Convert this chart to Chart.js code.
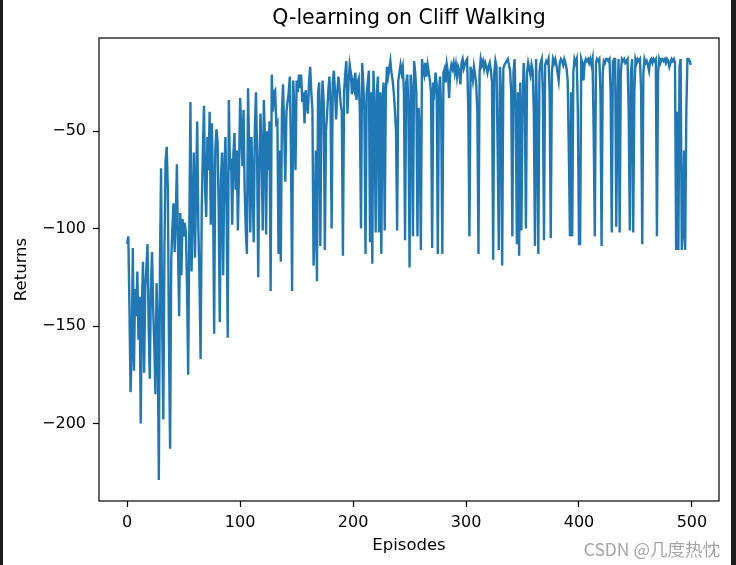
<!DOCTYPE html>
<html>
<head>
<meta charset="utf-8">
<script src="https://cdn.jsdelivr.net/npm/chart.js@4/dist/chart.umd.min.js"></script>
<style>
  body { margin: 0; background: #fff; }
  #wrap { position: relative; width: 736px; height: 565px; overflow: hidden; }
  #chart { position: absolute; left: 0; top: 0; }
  .edge { position: absolute; top: 0; height: 565px; background: #1e1e1e; }
  #mark { position: absolute; right: 16px; top: 536px; line-height: 22px; font: 17.5px "Noto Sans CJK SC", "DejaVu Sans", sans-serif; color: #a4a4a4; white-space: nowrap; }
</style>
</head>
<body>
<div id="wrap">
  <canvas id="chart" width="736" height="565"></canvas>
  <div class="edge" style="left:0;width:3px"></div>
  <div class="edge" style="left:731px;width:5px"></div>
  <div id="mark">CSDN @几度热忱</div>
</div>
<script>
const chartTitle = 'Q-learning on Cliff Walking';
const xLabel = 'Episodes';
const yLabel = 'Returns';
const xTicks = [0, 100, 200, 300, 400, 500];
const yTicks = [-200, -150, -100, -50];

// returns per episode
const returns = [
  -108, -104, -140, -184, -160, -110, -173, -131, -145, -122,
  -157, -135, -200, -140, -117, -174, -130, -120, -108, -150,
  -177, -130, -112, -141, -160, -185, -128, -150, -229, -120,
  -69, -152, -198, -110, -65, -58, -80, -160, -213, -116,
  -100, -87, -112, -95, -67, -110, -145, -92, -124, -95,
  -104, -97, -102, -130, -175, -100, -35, -122, -90, -61,
  -115, -80, -45, -100, -125, -167, -90, -60, -37, -80,
  -94, -53, -70, -40, -98, -46, -80, -154, -60, -49,
  -55, -90, -148, -75, -61, -124, -70, -53, -90, -156,
  -34, -70, -64, -98, -62, -51, -80, -60, -101, -70,
  -33, -50, -68, -39, -80, -101, -113, -28, -60, -102,
  -53, -75, -107, -50, -30, -60, -125, -70, -41, -60,
  -101, -34, -55, -103, -50, -70, -45, -132, -21, -40,
  -30, -29, -46, -45, -113, -60, -117, -40, -26, -50,
  -76, -40, -35, -30, -22, -60, -132, -24, -40, -70,
  -24, -30, -21, -28, -21, -35, -30, -46, -29, -35,
  -41, -25, -17, -30, -39, -119, -101, -60, -127, -30,
  -25, -109, -40, -24, -35, -111, -50, -41, -30, -22,
  -35, -100, -25, -19, -30, -44, -30, -22, -28, -36,
  -40, -114, -30, -21, -14, -41, -25, -16, -20, -31,
  -25, -28, -20, -34, -25, -23, -40, -100, -15, -25,
  -40, -113, -31, -25, -19, -107, -30, -118, -19, -40,
  -102, -30, -22, -102, -30, -113, -34, -25, -101, -30,
  -17, -22, -18, -14, -20, -24, -30, -39, -50, -101,
  -24, -20, -16, -20, -17, -30, -106, -25, -21, -40,
  -120, -21, -30, -104, -14, -20, -30, -104, -38, -50,
  -111, -13, -18, -21, -15, -22, -16, -20, -24, -30,
  -110, -25, -29, -20, -26, -113, -30, -22, -40, -113,
  -20, -18, -25, -16, -20, -33, -20, -16, -18, -15,
  -20, -16, -22, -17, -19, -26, -15, -13, -18, -16,
  -14, -13, -40, -104, -17, -20, -24, -17, -21, -26,
  -40, -113, -20, -13, -16, -14, -18, -15, -17, -20,
  -17, -15, -19, -25, -116, -20, -14, -17, -60, -111,
  -17, -30, -119, -18, -16, -15, -14, -13, -16, -19,
  -30, -104, -20, -13, -40, -108, -30, -114, -25, -101,
  -40, -15, -30, -100, -20, -15, -18, -21, -16, -19,
  -40, -109, -13, -50, -113, -20, -15, -13, -30, -106,
  -16, -14, -15, -13, -30, -105, -20, -13, -15, -13,
  -16, -20, -24, -15, -13, -14, -16, -13, -15, -18,
  -24, -60, -104, -30, -104, -20, -13, -15, -13, -40,
  -108, -108, -13, -15, -24, -15, -13, -14, -13, -15,
  -13, -16, -13, -50, -104, -15, -13, -14, -13, -30,
  -109, -20, -14, -15, -13, -13, -14, -13, -30, -102,
  -15, -13, -13, -99, -40, -13, -102, -20, -13, -14,
  -13, -15, -14, -13, -40, -101, -20, -13, -102, -30,
  -13, -15, -13, -14, -13, -30, -108, -20, -13, -15,
  -14, -16, -19, -14, -13, -15, -13, -14, -13, -104,
  -20, -13, -15, -13, -13, -14, -13, -15, -13, -14,
  -17, -15, -13, -14, -13, -15, -111, -40, -111, -17,
  -13, -111, -102, -60, -111, -40, -13, -13, -14, -16
];

const points = returns.map((v, i) => ({ x: i, y: v }));

Chart.defaults.font.family = '"DejaVu Sans", sans-serif';
Chart.defaults.font.size = 16;
Chart.defaults.color = '#000';

const frame = {
  id: 'frame',
  afterDraw(chart) {
    const { ctx, chartArea: a } = chart;
    ctx.save();
    ctx.strokeStyle = '#000';
    ctx.lineWidth = 1.2;
    ctx.strokeRect(a.left, a.top, a.right - a.left, a.bottom - a.top);
    ctx.restore();
  }
};

const chartConfig = {
  type: 'line',
  data: {
    datasets: [
      {
        data: points,
        borderColor: '#1f77b4',
        borderWidth: 2.4,
        pointRadius: 0,
        tension: 0,
        fill: false,
      },
    ],
  },
  options: {
    responsive: false,
    animation: false,
    devicePixelRatio: 1,
    layout: { padding: { left: 0, right: 17, top: 0, bottom: 0 } },
    plugins: {
      legend: { display: false },
      tooltip: { enabled: false },
      title: {
        display: true,
        text: chartTitle,
        fullSize: false,
        font: { size: 20.5, weight: 'normal' },
        color: '#000',
        padding: { top: 6.7, bottom: 6.7 },
      },
    },
    scales: {
      x: {
        type: 'linear',
        min: -24.95,
        max: 523.95,
        afterBuildTicks: (s) => { s.ticks = xTicks.map((v) => ({ value: v })); },
        afterFit: (s) => { s.height = 64; },
        ticks: { padding: 6, maxRotation: 0, callback: (v) => String(v) },
        grid: { display: true, drawOnChartArea: false, drawTicks: true, tickLength: 6, tickColor: '#000', tickWidth: 1.2 },
        border: { display: false },
        title: { display: true, text: xLabel, font: { size: 16.5 }, padding: { top: 0, bottom: 9 } },
      },
      y: {
        type: 'linear',
        min: -239.8,
        max: -2.2,
        afterBuildTicks: (s) => { s.ticks = yTicks.map((v) => ({ value: v })); },
        afterFit: (s) => { s.width = 99; },
        ticks: { padding: 7, callback: (v) => '\u2212' + Math.abs(v) },
        grid: { display: true, drawOnChartArea: false, drawTicks: true, tickLength: 6, tickColor: '#000', tickWidth: 1.2 },
        border: { display: false },
        title: { display: true, text: yLabel, font: { size: 16.5 }, padding: { top: 12, bottom: 0 } },
      },
    },
  },
  plugins: [frame],
};

new Chart(document.getElementById('chart'), chartConfig);
</script>
</body>
</html>
